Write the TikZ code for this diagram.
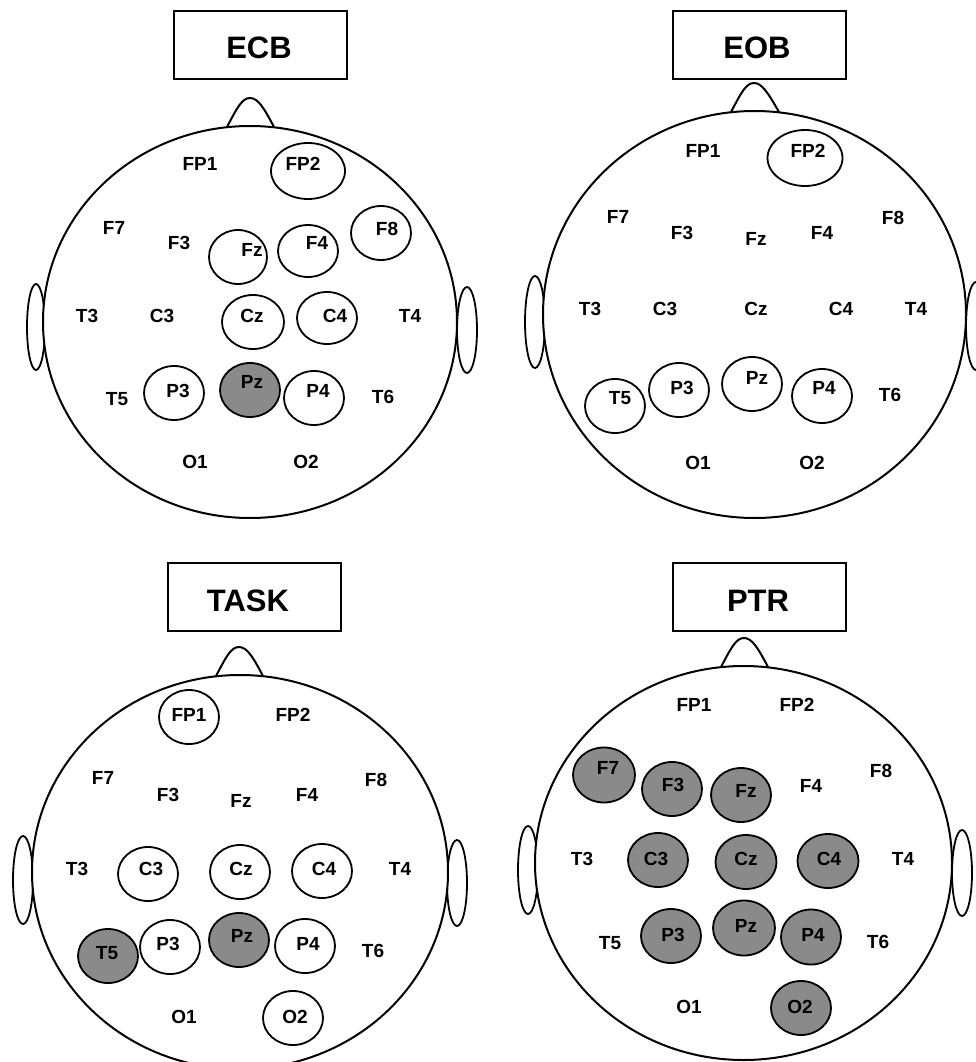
\documentclass[tikz,border=0pt]{standalone}
\usepackage{fontspec}
\setmainfont{Liberation Sans}
\usetikzlibrary{shapes.geometric}
\definecolor{sitegray}{HTML}{8A8A8A}
\tikzset{
  lbl/.style={font=\bfseries\fontsize{19}{19}\selectfont, inner sep=0pt, anchor=center},
  ttl/.style={font=\bfseries\fontsize{31}{31}\selectfont, inner sep=0pt, anchor=center},
  titlebox/.style={draw, line width=2pt, rectangle, inner sep=0pt, minimum width=173pt, minimum height=68pt},
  ring/.style={draw, ellipse, line width=1.8pt, inner sep=0pt},
  hot/.style={ring, fill=sitegray},
  outline/.style={line width=2pt},
  ear/.style={line width=1.8pt, fill=white},
}
\begin{document}
\begin{tikzpicture}[x=1pt,y=-1pt]
\useasboundingbox (0,0) rectangle (975,1062);

% ---------------- ECB ----------------
\node[titlebox] (ecb-box) at (260.5,45) {};
\node[ttl] (ecb-title) at (259,48) {ECB};
\draw[ear] (36,327) ellipse [x radius=9, y radius=43];
\draw[ear] (467,330) ellipse [x radius=10, y radius=43];
\draw[outline] (227,127) .. controls (237,108) and (242,98) .. (250,98)
               .. controls (258,98) and (264,108) .. (274,127);
\draw[outline, fill=white] (250,322) ellipse [x radius=207, y radius=196];
\foreach \n/\x/\y/\w/\h/\s in {FP2/308/171/74/56/ring, Fz/238/257/58/54/ring,
    F4/308/251/60/52/ring, F8/381/233/60/54/ring, Cz/253/322/62/54/ring,
    C4/327/318/60/52/ring, P3/174/393/60/54/ring, Pz/250/390/60/54/hot,
    P4/314/398/60/54/ring}
  \node[\s, minimum width=\w pt, minimum height=\h pt] (ecb-\n-ring) at (\x,\y) {};
\foreach \n/\x/\y in {FP1/200/164, FP2/303/164, F7/114/228, F3/179/243,
    Fz/252/250, F4/317/243, F8/387/229, T3/87/316, C3/162/316, Cz/252/316,
    C4/335/316, T4/410/316, T5/117/399, P3/178/391, Pz/252/382, P4/318/391,
    T6/383/397, O1/195/462, O2/306/462}
  \node[lbl] (ecb-\n) at (\x,\y) {\n};

% ---------------- EOB ----------------
\node[titlebox] (eob-box) at (759,45) {};
\node[ttl] (eob-title) at (757,48) {EOB};
\draw[ear] (535,322) ellipse [x radius=10, y radius=46];
\draw[ear] (976,326) ellipse [x radius=10, y radius=44];
\draw[outline] (731,112) .. controls (741,93) and (746,83) .. (754,83)
               .. controls (762,83) and (768,93) .. (779,112);
\draw[outline, fill=white] (754.5,314.5) ellipse [x radius=211.5, y radius=203.5];
\foreach \n/\x/\y/\w/\h/\s in {FP2/805/158/75/56/ring, T5/615/406/60/54/ring,
    P3/679/390/60/54/ring, Pz/752/384/60/54/ring, P4/822/396/60/54/ring}
  \node[\s, minimum width=\w pt, minimum height=\h pt] (eob-\n-ring) at (\x,\y) {};
\foreach \n/\x/\y in {FP1/703/151, FP2/808/151, F7/618/217, F3/682/233,
    Fz/756/239, F4/822/233, F8/893/218, T3/590/309, C3/665/309, Cz/756/309,
    C4/841/309, T4/916/309, T5/620/398, P3/682/388, Pz/757/378, P4/824/388,
    T6/890/395, O1/698/463, O2/812/463}
  \node[lbl] (eob-\n) at (\x,\y) {\n};

% ---------------- TASK ----------------
\node[titlebox] (task-box) at (254.5,597) {};
\node[ttl] (task-title) at (248,601) {TASK};
\draw[ear] (23,880) ellipse [x radius=10, y radius=44];
\draw[ear] (457,883) ellipse [x radius=10, y radius=43];
\draw[outline] (216,676) .. controls (226,657) and (231,647) .. (239,647)
               .. controls (247,647) and (253,657) .. (263,676);
\draw[outline, fill=white] (240,872) ellipse [x radius=208, y radius=197];
\foreach \n/\x/\y/\w/\h/\s in {FP1/189/717/60/54/ring, C3/148/874/60/54/ring,
    Cz/240/872/60/54/ring, C4/322/871/60/54/ring, T5/108/956/60/54/hot,
    P3/170/947/60/54/ring, Pz/239/940/60/54/hot, P4/305/946/60/54/ring,
    O2/293/1018/60/54/ring}
  \node[\s, minimum width=\w pt, minimum height=\h pt] (task-\n-ring) at (\x,\y) {};
\foreach \n/\x/\y in {FP1/189/715, FP2/293/715, F7/103/778, F3/168/795,
    Fz/241/801, F4/307/795, F8/376/780, T3/77/869, C3/151/869, Cz/241/869,
    C4/324/869, T4/400/869, T5/107/953, P3/168/944, Pz/242/936, P4/308/944,
    T6/373/951, O1/184/1017, O2/295/1017}
  \node[lbl] (task-\n) at (\x,\y) {\n};

% ---------------- PTR ----------------
\node[titlebox] (ptr-box) at (759,597) {};
\node[ttl] (ptr-title) at (758,601) {PTR};
\draw[ear] (528,870) ellipse [x radius=10, y radius=44];
\draw[ear] (962,873) ellipse [x radius=10, y radius=43];
\draw[outline] (721,667) .. controls (731,648) and (736,638) .. (744,638)
               .. controls (752,638) and (758,648) .. (768,667);
\draw[outline, fill=white] (743.5,863) ellipse [x radius=208.5, y radius=197];
\foreach \n/\x/\y/\w/\h/\s in {F7/604/775/62/55/hot, F3/672/789/60/54/hot,
    Fz/741/795/60/54/hot, C3/658/860/60/54/hot, Cz/746/862/61/54/hot,
    C4/828/861/61/54/hot, P3/671/936/60/54/hot, Pz/744/928/62/55/hot,
    P4/811/937/60/55/hot, O2/801/1008/60/54/hot}
  \node[\s, minimum width=\w pt, minimum height=\h pt] (ptr-\n-ring) at (\x,\y) {};
\foreach \n/\x/\y in {FP1/694/705, FP2/797/705, F7/608/768, F3/673/785,
    Fz/746/791, F4/811/786, F8/881/771, T3/582/859, C3/656/859, Cz/746/859,
    C4/829/859, T4/903/859, T5/610/943, P3/673/935, Pz/746/926, P4/813/935,
    T6/878/942, O1/689/1007, O2/800/1007}
  \node[lbl] (ptr-\n) at (\x,\y) {\n};
\end{tikzpicture}
\end{document}
